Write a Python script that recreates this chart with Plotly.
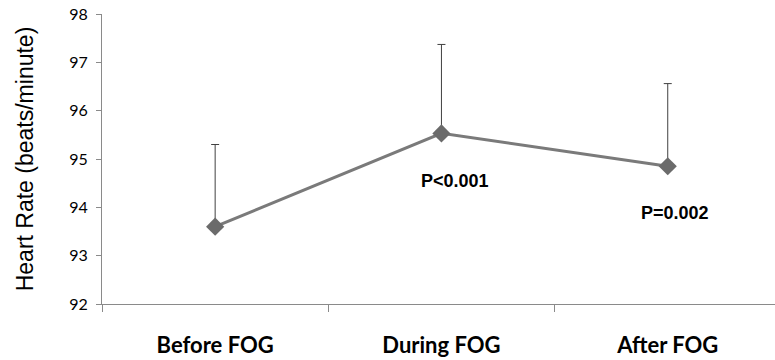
import plotly.graph_objects as go

categories = ["Before FOG", "During FOG", "After FOG"]
heart_rate = [93.6, 95.53, 94.85]
sd_upper = [1.7, 1.84, 1.71]
sd_lower = [0, 0, 0]
p_labels = ["", "P<0.001", "P=0.002"]
p_label_y = [None, 94.54, 93.89]
y_ticks = [92, 93, 94, 95, 96, 97, 98]

fig = go.Figure()
fig.add_trace(go.Scatter(
    x=categories, y=heart_rate, mode="lines+markers",
    line=dict(color="#7a7a7a", width=3),
    marker=dict(symbol="diamond", size=14, color="#6b6b6b"),
    error_y=dict(type="data", symmetric=False, array=sd_upper, arrayminus=sd_lower,
                 color="#404040", thickness=1, width=4),
    showlegend=False, hoverinfo="skip",
))

for cat, lab, ly in zip(categories, p_labels, p_label_y):
    if lab:
        fig.add_annotation(x=cat, y=ly, text="<b>%s</b>" % lab, showarrow=False,
                           xshift=14 if cat == "During FOG" else 7,
                           font=dict(family="Liberation Sans, Arial", size=18, color="#000000"))

fig.update_layout(
    width=775, height=360,
    margin=dict(l=102, r=0, t=14, b=56),
    paper_bgcolor="white", plot_bgcolor="white",
    xaxis=dict(
        type="category", range=[-0.5, 2.474], showgrid=False, zeroline=False,
        showline=True, linecolor="#8a8a8a", linewidth=1,
        ticks="outside", tickson="boundaries", ticklen=7, tickcolor="#8a8a8a",
        tickfont=dict(family="Lato", size=22, color="#000000", weight="bold"),
        ticklabelstandoff=22,
    ),
    yaxis=dict(
        range=[92, 98], tickvals=y_ticks, showgrid=False, zeroline=False,
        showline=True, linecolor="#8a8a8a", linewidth=1,
        ticks="outside", ticklen=5, tickcolor="#8a8a8a",
        tickfont=dict(family="Lato", size=16, color="#000000"),
        ticklabelstandoff=5,
        title=dict(text="Heart Rate (beats/minute)", standoff=29,
                   font=dict(family="Liberation Sans, Arial", size=23, color="#000000")),
    ),
)

fig.write_html("out.html")
